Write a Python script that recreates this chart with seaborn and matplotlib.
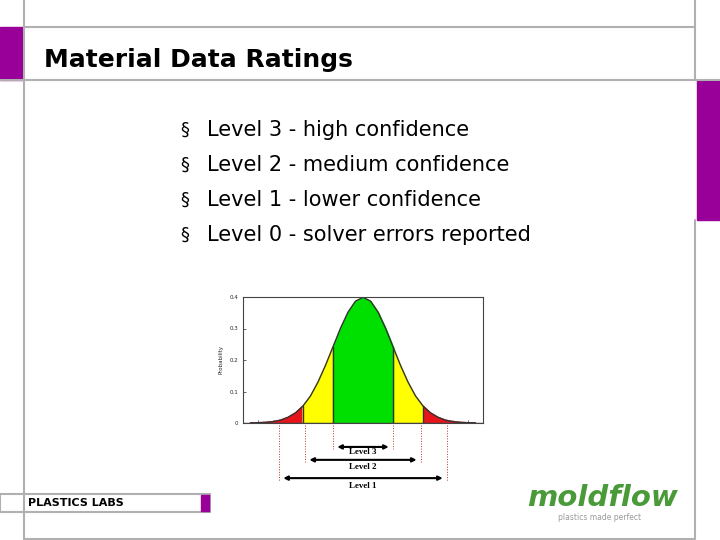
import matplotlib
matplotlib.use("Agg")
import matplotlib.pyplot as plt
import seaborn as sns
import numpy as np
import pandas as pd
from matplotlib.patches import Rectangle
from matplotlib.lines import Line2D

sns.set_style("white")
plt.rcParams['font.family'] = ['DejaVu Sans']
plt.rcParams['text.color'] = 'black'

title = "Material Data Ratings"
bullets = ["Level 3 - high confidence", "Level 2 - medium confidence",
           "Level 1 - lower confidence", "Level 0 - solver errors reported"]
x_half = [0.0, 0.25, 0.5, 0.75, 1.0, 1.25, 1.5, 1.75, 2.0, 2.25, 2.5, 2.75,
          3.0, 3.25, 3.5, 3.75]
pdf_half = [0.399, 0.387, 0.352, 0.301, 0.242, 0.183, 0.130, 0.086, 0.054,
            0.032, 0.018, 0.009, 0.0044, 0.002, 0.0009, 0.0004]
level_names = ["Level 3", "Level 2", "Level 1"]
level_bounds = [1.0, 1.93, 2.8]
yticks = [0, 0.1, 0.2, 0.3, 0.4]
ytick_labels = ["0", "0.1", "0.2", "0.3", "0.4"]

xs = np.array([-v for v in x_half[::-1]] + x_half[1:])
ys = np.array(pdf_half[::-1] + pdf_half[1:])
df = pd.DataFrame({"x": xs, "p": ys})

fig = plt.figure(figsize=(7.2, 5.4), dpi=100)
W, H = 720, 540
def fx(p): return p / W
def fy(p): return 1 - p / H

grey = "#b0b0b0"; purple = "#990099"
for (x0, y0, x1, y1) in [(24, 0, 24, 539), (695, 0, 695, 80), (24, 27, 695, 27),
                         (0, 80, 720, 80), (24, 539, 695, 539), (695, 220, 695, 539)]:
    fig.add_artist(Line2D([fx(x0), fx(x1)], [fy(y0), fy(y1)], color=grey, lw=1.5))
fig.add_artist(Rectangle((0, fy(80)), fx(23), fy(27) - fy(80), color=purple))
fig.add_artist(Rectangle((fx(697), fy(220)), fx(23), fy(80) - fy(220), color=purple))
fig.text(fx(44), fy(60), title, fontsize=18, fontweight="bold", va="center", color="black")
for i, b in enumerate(bullets):
    yy = fy(130 + i * 35)
    fig.text(fx(180), yy, "§", fontsize=13, va="center", color="black")
    fig.text(fx(207), yy, b, fontsize=15, va="center", color="black")
fig.add_artist(Rectangle((0, fy(512)), fx(210), fy(494) - fy(512), fill=False, ec=grey, lw=1.5))
fig.add_artist(Rectangle((fx(201), fy(511)), fx(8), fy(495) - fy(511), color=purple))
fig.text(fx(28), fy(503), "PLASTICS LABS", fontsize=8, fontweight="bold", va="center", color="black")
fig.text(fx(602), fy(498), "moldflow", fontsize=21, fontweight="bold", fontstyle="italic",
         color="#4a9a3a", ha="center", va="center")
fig.text(fx(600), fy(517), "plastics made perfect", fontsize=5.5, color="#999999",
         ha="center", va="center")

ax = fig.add_axes([fx(243), fy(423), fx(483) - fx(243), fy(297) - fy(423)])
sns.lineplot(data=df, x="x", y="p", ax=ax, color="#333333", lw=1)
x = df["x"].values; p = df["p"].values
ax.fill_between(x, 0, p, where=np.abs(x) >= 2.0 - 1e-9, color="#e8141c")
ax.fill_between(x, 0, p, where=(np.abs(x) <= 2.0 + 1e-9) & (np.abs(x) >= 1 - 1e-9), color="#ffff00")
ax.fill_between(x, 0, p, where=np.abs(x) <= 1.0 + 1e-9, color="#00e000")
for b in [-2, -1, 1, 2]:
    ax.plot([b, b], [0, np.interp(b, x, p)], color="#333333", lw=1)
ax.axhline(0, color="#444444", lw=1)
ax.set_xlim(-4, 4); ax.set_ylim(0, 0.4)
ax.set_yticks(yticks); ax.set_yticklabels(ytick_labels, fontsize=4)
ax.set_xticks(np.arange(-3.5, 4, 0.5)); ax.set_xticklabels([])
ax.tick_params(length=2, width=0.5, direction="in", left=True, bottom=True)
ax.set_xlabel(""); ax.set_ylabel("Probability", fontsize=4)
for s in ax.spines.values():
    s.set_linewidth(0.8); s.set_color("#444444")

arrow_y = [-0.076, -0.117, -0.175]
text_y = [-0.092, -0.14, -0.2]
for name, b, ay, ty in zip(level_names, level_bounds, arrow_y, text_y):
    for sgn in (-1, 1):
        ax.plot([sgn * b, sgn * b], [-0.005, ay - 0.008], color="#c03030", lw=0.7,
                ls=":", clip_on=False)
    ax.annotate("", xy=(-b + 0.05, ay), xytext=(b - 0.05, ay),
                arrowprops=dict(arrowstyle="<|-|>", color="black", lw=1.5,
                                mutation_scale=6), annotation_clip=False)
    ax.text(0, ty, name, fontsize=6.5, family="Liberation Serif", fontweight="bold",
            ha="center", va="center", clip_on=False)

fig.savefig("out.png", dpi=100)
